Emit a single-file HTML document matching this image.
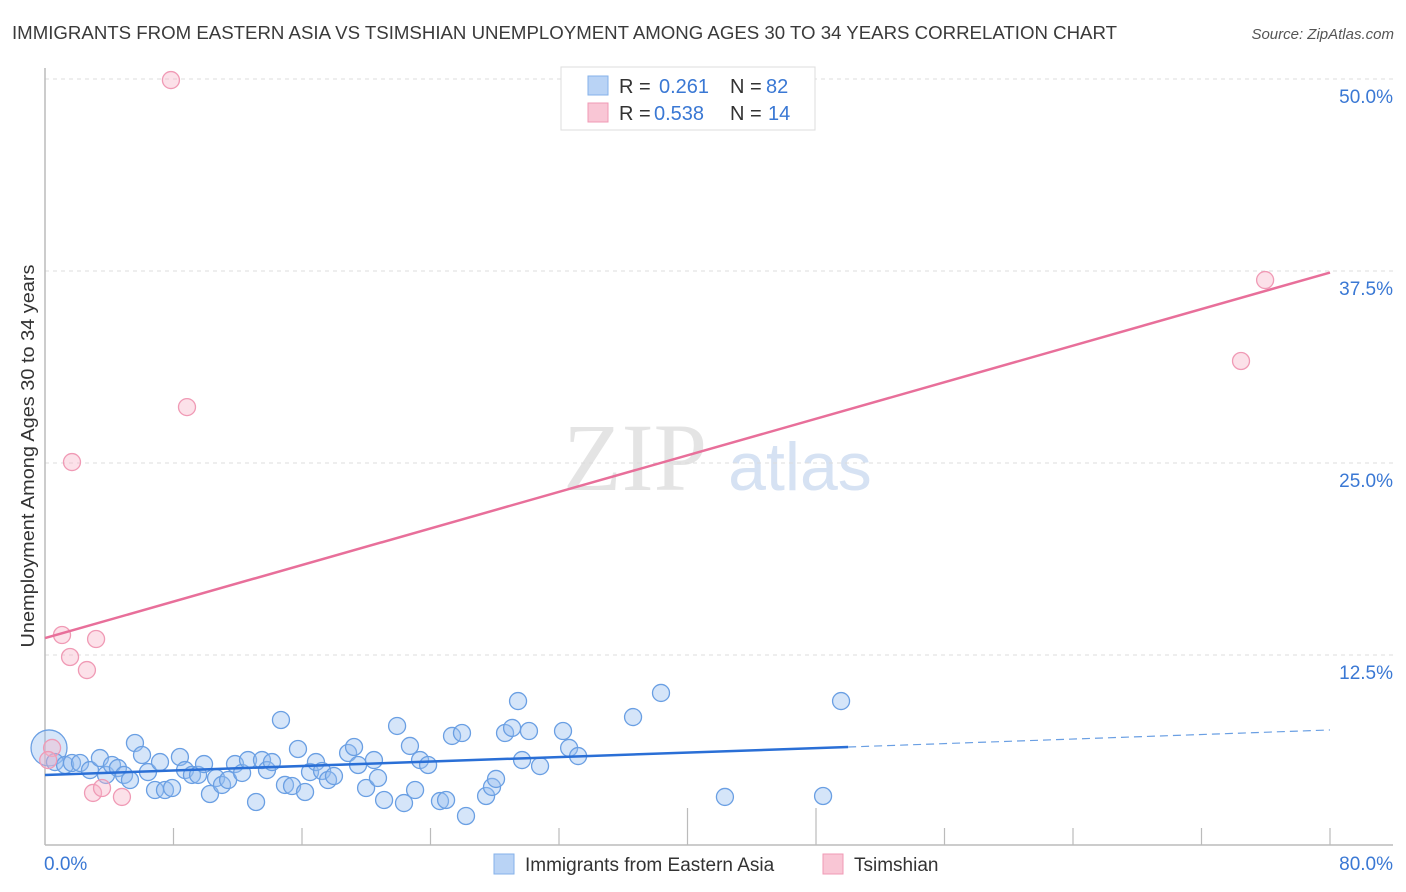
<!DOCTYPE html>
<html><head><meta charset="utf-8"><style>
body{margin:0;background:#fff;font-family:"Liberation Sans",sans-serif}
svg{display:block}
</style></head><body>
<svg id="chart" width="1406" height="892" viewBox="0 0 1406 892">
<text x="12" y="39" font-size="18.5" fill="#3a3a3a" textLength="1105" lengthAdjust="spacingAndGlyphs">IMMIGRANTS FROM EASTERN ASIA VS TSIMSHIAN UNEMPLOYMENT AMONG AGES 30 TO 34 YEARS CORRELATION CHART</text>
<text x="1394" y="39" font-size="15" fill="#555" text-anchor="end" font-style="italic">Source: ZipAtlas.com</text>
<text transform="translate(34,456) rotate(-90)" font-size="18" fill="#333" text-anchor="middle" textLength="383" lengthAdjust="spacingAndGlyphs">Unemployment Among Ages 30 to 34 years</text>
<g>
<text x="635" y="490" font-size="96" font-family="Liberation Serif,serif" fill="#e4e4e4" text-anchor="middle">ZIP</text>
<text x="800" y="490" font-size="68" fill="#d6e2f3" text-anchor="middle">atlas</text>
</g>
<g id="grid"></g><g id="axes"></g><g id="marks"></g>
<g>
<rect x="561" y="67" width="254" height="63" fill="#fff" stroke="#ddd"/>
<rect x="588" y="76" width="20" height="19" fill="#b9d3f5" stroke="#85b2ea"/>
<rect x="588" y="103" width="20" height="19" fill="#f9c6d5" stroke="#f09ab5"/>
<text x="619" y="93" font-size="20" fill="#333">R = </text><text x="659" y="93" font-size="20" fill="#3a78d4">0.261</text>
<text x="730" y="93" font-size="20" fill="#333">N = </text><text x="766" y="93" font-size="20" fill="#3a78d4">82</text>
<text x="619" y="120" font-size="20" fill="#333">R = </text><text x="654" y="120" font-size="20" fill="#3a78d4">0.538</text>
<text x="730" y="120" font-size="20" fill="#333">N = </text><text x="768" y="120" font-size="20" fill="#3a78d4">14</text>
</g>
<g>
<rect x="494" y="854" width="20" height="20" fill="#b9d3f5" stroke="#85b2ea"/>
<text x="525" y="871" font-size="19" fill="#333">Immigrants from Eastern Asia</text>
<rect x="823" y="854" width="20" height="20" fill="#f9c6d5" stroke="#f09ab5"/>
<text x="854" y="871" font-size="19" fill="#333">Tsimshian</text>
</g>
</svg>
<script>
const blueX=[0.25,0.62,1.25,1.68,2.18,2.8,3.42,3.8,4.17,4.54,4.92,5.29,5.6,6.04,6.41,6.85,7.16,7.47,7.91,8.4,8.72,9.15,9.53,9.9,10.27,10.65,11.02,11.4,11.83,12.27,12.64,13.14,13.51,13.82,14.13,14.69,14.94,15.38,15.75,16.19,16.5,16.87,17.25,17.62,17.99,18.87,19.24,19.49,19.99,20.48,20.73,21.11,21.92,22.35,22.72,23.04,23.35,23.85,24.59,24.97,25.34,25.96,26.21,27.46,27.83,28.08,28.64,29.08,29.45,29.7,30.13,30.82,32.25,32.63,33.19,36.61,38.35,42.33,48.44,49.56];
const blueY=[6.45,5.53,5.34,5.47,5.47,5.01,5.79,4.69,5.34,5.14,4.69,4.36,6.77,5.99,4.88,3.71,5.53,3.71,3.84,5.86,5.01,4.69,4.69,5.4,3.45,4.49,4.04,4.36,5.4,4.82,5.66,2.93,5.66,5.01,5.53,8.27,4.04,3.97,6.38,3.58,4.88,5.53,4.95,4.36,4.62,6.12,6.51,5.34,3.84,5.66,4.49,3.06,7.88,2.86,6.58,3.71,5.66,5.34,2.99,3.06,7.23,7.42,2.02,3.32,3.91,4.43,7.42,7.75,9.5,5.66,7.55,5.27,7.55,6.45,5.92,8.46,10.03,3.26,3.32,9.5];
const pinkX=[7.84,8.84,1.68,1.06,3.18,1.56,2.61,0.44,2.99,3.55,4.79,75.96,74.46,0.2];
const pinkY=[49.93,28.64,25.06,13.8,13.54,12.37,11.52,6.45,3.52,3.84,3.26,36.91,31.64,5.66];
const yTicks=[12.5,25,37.5,50];
const yTickLabels=["12.5%","25.0%","37.5%","50.0%"];
const xTicks=[0,8,16,24,32,40,48,56,64,72,80];
const blueTrend=[[0,4.69],[50,6.51],[80,7.62]];
const pinkTrend=[[0,13.6],[80,37.4]];
const NS="http://www.w3.org/2000/svg";
const X=v=>45+v*1285/80, Y=v=>847-v*768/50;
function mk(parent,tag,attrs){const e=document.createElementNS(NS,tag);for(const k in attrs)e.setAttribute(k,attrs[k]);document.getElementById(parent).appendChild(e);return e;}
yTicks.forEach((t,i)=>{
 const l=mk('grid','line',{x1:45,x2:1393,y1:Y(t),y2:Y(t),stroke:'#dcdcdc','stroke-dasharray':'4,4'});
 
 
 const tx=mk('axes','text',{x:1393,y:Y(t)+24,'font-size':19,fill:'#3a78d4','text-anchor':'end'});
 tx.textContent=yTickLabels[i];
 
 
});
let a=mk('axes','line',{x1:45,x2:45,y1:68,y2:845,stroke:'#bbb','stroke-width':1.5});

a=mk('axes','line',{x1:45,x2:1393,y1:845,y2:845,stroke:'#bbb','stroke-width':1.5});

xTicks.slice(1).forEach((t,i)=>{
 const long=(t===40||t===48);
 const l=mk('axes','line',{x1:X(t),x2:X(t),y1:long?808:828,y2:845,stroke:'#bbb','stroke-width':1.2});
 
 
});
let t0=mk('axes','text',{x:44,y:870,'font-size':19,fill:'#3a78d4'});t0.textContent=xTicks[0].toFixed(1)+'%';

let t1=mk('axes','text',{x:1393,y:870,'font-size':19,fill:'#3a78d4','text-anchor':'end'});t1.textContent=xTicks[xTicks.length-1].toFixed(1)+'%';

blueX.forEach((x,i)=>{
 const c=mk('marks','circle',{cx:X(x),cy:Y(blueY[i]),r:i===0?18:8.5,fill:'rgba(150,190,240,0.4)',stroke:'#6a9fe3','stroke-width':1.3});
 
 
});
pinkX.forEach((x,i)=>{
 const c=mk('marks','circle',{cx:X(x),cy:Y(pinkY[i]),r:8.5,fill:'rgba(248,180,200,0.4)',stroke:'#f09ab5','stroke-width':1.3});
 
 
});
let tl=mk('marks','line',{x1:X(pinkTrend[0][0]),y1:Y(pinkTrend[0][1]),x2:X(pinkTrend[1][0]),y2:Y(pinkTrend[1][1]),stroke:'#e86f9a','stroke-width':2.5});

tl=mk('marks','line',{x1:X(blueTrend[0][0]),y1:Y(blueTrend[0][1]),x2:X(blueTrend[1][0]),y2:Y(blueTrend[1][1]),stroke:'#2a6fd6','stroke-width':2.5});

tl=mk('marks','line',{x1:X(blueTrend[1][0]),y1:Y(blueTrend[1][1]),x2:X(blueTrend[2][0]),y2:Y(blueTrend[2][1]),stroke:'#6a9fe3','stroke-width':1.2,'stroke-dasharray':'8,5'});

</script>
</body></html>
